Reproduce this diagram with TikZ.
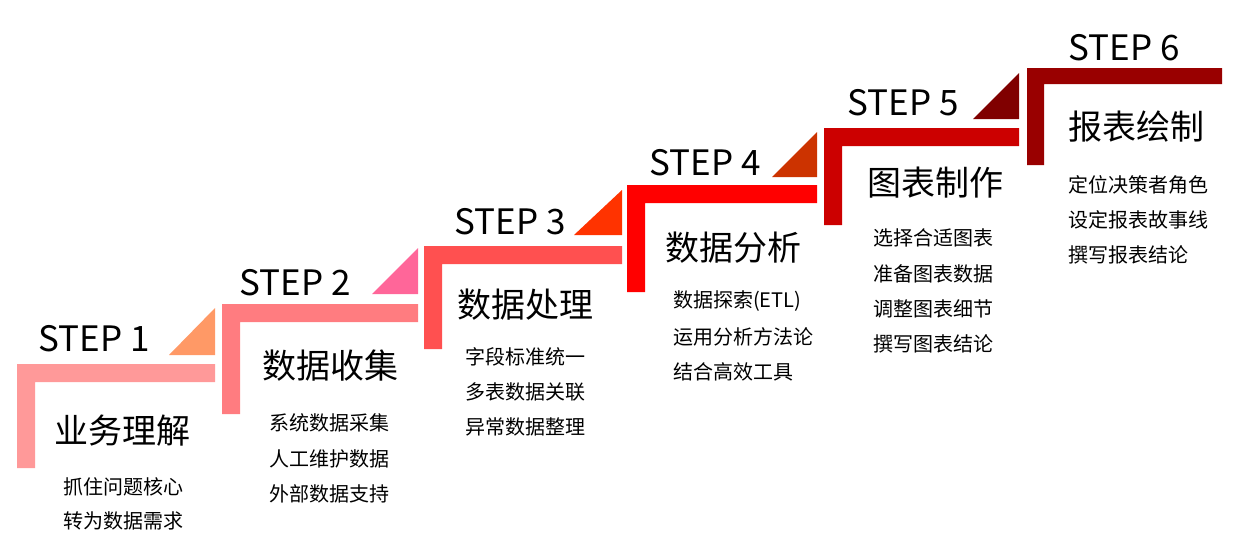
\documentclass[tikz,border=0pt]{standalone}
\usepackage{fontspec}
\setmainfont{Noto Sans CJK SC}

\definecolor{barA}{HTML}{FF9999}
\definecolor{barB}{HTML}{FF7C80}
\definecolor{barC}{HTML}{FF5050}
\definecolor{barD}{HTML}{FF0000}
\definecolor{barE}{HTML}{CC0000}
\definecolor{barF}{HTML}{990000}
\definecolor{triA}{HTML}{FF9966}
\definecolor{triB}{HTML}{FF6699}
\definecolor{triC}{HTML}{FF3300}
\definecolor{triD}{HTML}{CC3300}
\definecolor{triE}{HTML}{800000}

\begin{document}
\begin{tikzpicture}[
    x=1pt, y=-1pt,
    steplbl/.style={inner sep=0pt, font=\fontsize{35}{40}\selectfont},
    ttl/.style={inner sep=0pt, font=\fontsize{34}{40}\selectfont},
    item/.style={inner sep=0pt, anchor=west, font=\fontsize{20}{24}\selectfont}
]
\useasboundingbox (0,0) rectangle (1237,549);

% stairs
\fill[barA] (17,364) -- (215,364) -- (215,382) -- (35,382) -- (35,468) -- (17,468) -- cycle;
\fill[barB] (222,304) -- (418,304) -- (418,322) -- (240,322) -- (240,414) -- (222,414) -- cycle;
\fill[barC] (424,246) -- (622,246) -- (622,264) -- (442,264) -- (442,349) -- (424,349) -- cycle;
\fill[barD] (627,185) -- (817,185) -- (817,203) -- (645,203) -- (645,292) -- (627,292) -- cycle;
\fill[barE] (824,128) -- (1019,128) -- (1019,146) -- (842,146) -- (842,225) -- (824,225) -- cycle;
\fill[barF] (1027,68) -- (1222,68) -- (1222,84) -- (1044,84) -- (1044,165) -- (1027,165) -- cycle;

% corner triangles
\fill[triA] (169,355) -- (215,355) -- (215,308) -- cycle;
\fill[triB] (372,294) -- (418,294) -- (418,248) -- cycle;
\fill[triC] (574,235) -- (622,235) -- (622,190) -- cycle;
\fill[triD] (772,177) -- (817,177) -- (817,132) -- cycle;
\fill[triE] (973,119) -- (1019,119) -- (1019,73) -- cycle;

\node[steplbl] (s1) at (94,339) {STEP 1};
\node[steplbl] (s2) at (295,283) {STEP 2};
\node[steplbl] (s3) at (510,222) {STEP 3};
\node[steplbl] (s4) at (705,163) {STEP 4};
\node[steplbl] (s5) at (903,103) {STEP 5};
\node[steplbl] (s6) at (1124,48) {STEP 6};

\node[ttl] (t1) at (122,431) {业务理解};
\node[ttl] (t2) at (330,366) {数据收集};
\node[ttl] (t3) at (525,305) {数据处理};
\node[ttl] (t4) at (733,248) {数据分析};
\node[ttl] (t5) at (935,183) {图表制作};
\node[ttl] (t6) at (1136,127) {报表绘制};

\node[item] (a1) at (63,487) {抓住问题核心};
\node[item] (a2) at (63,521) {转为数据需求};

\node[item] (b1) at (269,423) {系统数据采集};
\node[item] (b2) at (269,459) {人工维护数据};
\node[item] (b3) at (269,494) {外部数据支持};

\node[item] (c1) at (465,357) {字段标准统一};
\node[item] (c2) at (465,392) {多表数据关联};
\node[item] (c3) at (465,427) {异常数据整理};

\node[item] (d1) at (673,301) {数据探索(ETL)};
\node[item] (d2) at (673,337) {运用分析方法论};
\node[item] (d3) at (673,372) {结合高效工具};

\node[item] (e1) at (873,238) {选择合适图表};
\node[item] (e2) at (873,274) {准备图表数据};
\node[item] (e3) at (873,309) {调整图表细节};
\node[item] (e4) at (873,344) {撰写图表结论};

\node[item] (f1) at (1068,185) {定位决策者角色};
\node[item] (f2) at (1068,220) {设定报表故事线};
\node[item] (f3) at (1068,255) {撰写报表结论};
\end{tikzpicture}
\end{document}
